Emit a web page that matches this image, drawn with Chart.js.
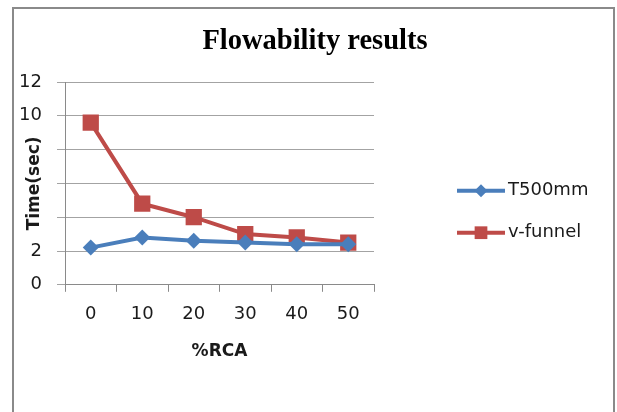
<!DOCTYPE html>
<html>
<head>
<meta charset="utf-8">
<script src="https://cdn.jsdelivr.net/npm/chart.js@4/dist/chart.umd.min.js"></script>
<style>
    body { margin: 0; background: #fff; width: 617px; height: 412px; overflow: hidden; position: relative; }
    #frame { position: absolute; left: 12px; top: 7px; width: 603px; height: 430px; border: 2px solid #8a8a8a; box-sizing: border-box; }
    #flowChart { position: absolute; left: 0; top: 0; }
</style>
</head>
<body>
<div id="frame"></div>
<canvas id="flowChart" width="617" height="412"></canvas>
<script>
    const categories = ['0', '10', '20', '30', '40', '50'];
    const t500Values = [2.2, 2.8, 2.6, 2.5, 2.4, 2.4];
    const vFunnelValues = [9.6, 4.8, 4.0, 3.0, 2.8, 2.5];
    const shownYTicks = [0, 2, 10, 12];

    const FONT = 'DejaVu Sans';

    // line + marker legend, Excel style
    const lineLegend = {
        id: 'lineLegend',
        afterDraw(chart) {
            const ctx = chart.ctx;
            const rows = [190.7, 232.7];
            chart.data.datasets.forEach((ds, i) => {
                const y = rows[i];
                ctx.save();
                ctx.strokeStyle = ds.borderColor;
                ctx.lineWidth = 4;
                ctx.beginPath();
                ctx.moveTo(457, y);
                ctx.lineTo(505, y);
                ctx.stroke();
                ctx.fillStyle = ds.backgroundColor;
                Chart.helpers.drawPoint(ctx, {
                    pointStyle: ds.pointStyle,
                    radius: ds.pointStyle === 'rect' ? 9 : 6.5,
                    rotation: 0,
                    borderWidth: 0
                }, 481, y);
                ctx.fillStyle = '#1a1a1a';
                ctx.font = '18px "' + FONT + '"';
                ctx.textBaseline = 'middle';
                ctx.textAlign = 'left';
                ctx.fillText(ds.label, 508, y);
                ctx.restore();
            });
        }
    };

    new Chart(document.getElementById('flowChart'), {
        type: 'line',
        data: {
            labels: categories,
            datasets: [
                {
                    label: 'T500mm',
                    data: t500Values,
                    borderColor: '#4a7ebb',
                    backgroundColor: '#4a7ebb',
                    borderWidth: 4,
                    pointStyle: 'rectRot',
                    pointRadius: 8,
                    pointBorderWidth: 0,
                    tension: 0
                },
                {
                    label: 'v-funnel',
                    data: vFunnelValues,
                    borderColor: '#be4b48',
                    backgroundColor: '#be4b48',
                    borderWidth: 4,
                    pointStyle: 'rect',
                    pointRadius: 11.5,
                    pointBorderWidth: 0,
                    tension: 0
                }
            ]
        },
        options: {
            responsive: false,
            animation: false,
            devicePixelRatio: 1,
            layout: {
                padding: { left: 13, top: 13, right: 0, bottom: 50 }
            },
            plugins: {
                legend: { display: false },
                tooltip: { enabled: false },
                title: {
                    display: true,
                    text: 'Flowability results',
                    color: '#000',
                    font: { family: 'Liberation Serif', size: 28.5, weight: 'bold', lineHeight: 1.2 },
                    padding: { top: 11.7, bottom: 23.1 }
                }
            },
            scales: {
                x: {
                    offset: true,
                    grid: {
                        offset: true,
                        drawOnChartArea: false,
                        drawTicks: true,
                        tickLength: 7,
                        color: '#8a8a8a'
                    },
                    border: { color: '#8a8a8a', width: 1 },
                    ticks: {
                        color: '#1a1a1a',
                        padding: 12.2,
                        font: { family: FONT, size: 18 }
                    },
                    title: {
                        display: true,
                        text: '%RCA',
                        color: '#1a1a1a',
                        font: { family: FONT, size: 17, weight: 'bold', lineHeight: 1.2 },
                        padding: { top: 3.8, bottom: 0 }
                    }
                },
                y: {
                    min: 0,
                    max: 12,
                    afterFit(scale) {
                        scale.width = 52;
                    },
                    grid: {
                        color: '#a3a3a3',
                        tickLength: 8
                    },
                    border: { color: '#8a8a8a', width: 1 },
                    ticks: {
                        stepSize: 2,
                        color: '#1a1a1a',
                        padding: 15,
                        font: { family: FONT, size: 18 },
                        callback: v => shownYTicks.includes(v) ? v : ''
                    },
                    title: {
                        display: true,
                        text: 'Time(sec)',
                        color: '#1a1a1a',
                        font: { family: FONT, size: 17, weight: 'bold', lineHeight: 1.2 },
                        padding: { top: 11, bottom: 0 }
                    }
                },
                // empty right-hand box that keeps room for the legend
                legendSpace: {
                    type: 'linear',
                    position: 'right',
                    min: 0,
                    max: 1,
                    afterFit(scale) {
                        scale.width = 243;
                    },
                    grid: { display: false },
                    border: { display: false },
                    ticks: { display: false }
                }
            }
        },
        plugins: [lineLegend]
    });
</script>
</body>
</html>
